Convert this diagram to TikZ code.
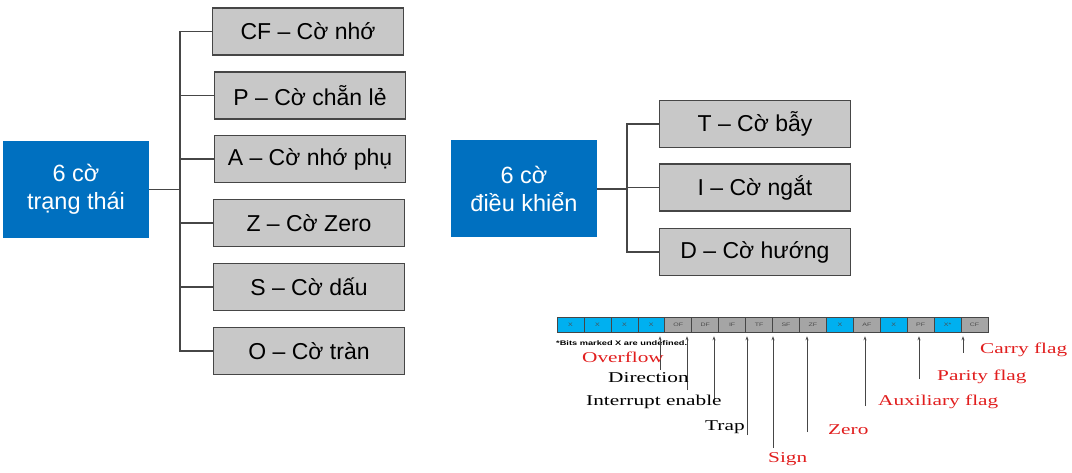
\documentclass[tikz,border=0pt]{standalone}
\usepackage{fontspec}
\setmainfont{Liberation Sans}
\newfontfamily\flagfont[FakeStretch=1.42]{Liberation Serif}
\newfontfamily\notefont[FakeStretch=1.4]{Liberation Sans}
\usepackage{tikz}
\usetikzlibrary{arrows.meta, positioning}
\definecolor{groupblue}{RGB}{0,112,192}
\definecolor{flaggrey}{RGB}{200,200,200}
\definecolor{bitcyan}{RGB}{0,176,240}
\definecolor{bitgrey}{RGB}{165,165,165}
\definecolor{labelred}{RGB}{225,30,30}
\definecolor{linegrey}{RGB}{70,70,70}

\begin{document}
\begin{tikzpicture}[x=1pt, y=-1pt,
  group/.style={fill=groupblue, text=white, minimum width=146pt, minimum height=97pt, align=center, font=\fontsize{23.5}{28}\selectfont},
  flag/.style={draw=linegrey, line width=1.2pt, fill=flaggrey, minimum width=191pt, minimum height=47pt, font=\fontsize{23}{27}\selectfont},
  link/.style={draw=linegrey, line width=1.2pt},
  bit/.style={draw=linegrey, line width=0.6pt, minimum width=26.94pt, minimum height=15pt, inner sep=0pt, text=black!70, font=\notefont\fontsize{5}{6}\selectfont},
  pointer/.style={draw=linegrey, line width=0.8pt, -{Stealth[length=4pt, width=3pt]}},
  flagname/.style={anchor=west, inner sep=0pt, font=\flagfont\fontsize{15}{18}\selectfont},
]
  \useasboundingbox (0,0) rectangle (1072,473);

  % status flags
  \node[group] (status) at (76,189.5) {6 cờ\\trạng thái};
  \node[flag] (cf) at (308,31.5) {CF – Cờ nhớ};
  \node[flag] (pf) at (310,95.5) {P – Cờ chẵn lẻ};
  \node[flag] (af) at (310,159) {A – Cờ nhớ phụ};
  \node[flag] (zf) at (309,223) {Z – Cờ Zero};
  \node[flag] (sf) at (309,287) {S – Cờ dấu};
  \node[flag] (of) at (309,351) {O – Cờ tràn};
  \coordinate (strunk) at (180,189.5);
  \draw[link] (status) -- (strunk);
  \foreach \f in {cf,pf,af,zf,sf,of}
    \draw[link] (strunk) |- (\f);

  % control flags
  \node[group] (control) at (524,189) {6 cờ\\điều khiển};
  \node[flag] (tf) at (755,124) {T – Cờ bẫy};
  \node[flag] (if) at (755,187.5) {I – Cờ ngắt};
  \node[flag] (df) at (755,252) {D – Cờ hướng};
  \coordinate (ctrunk) at (627,189);
  \draw[link] (control) -- (ctrunk);
  \foreach \f in {tf,if,df}
    \draw[link] (ctrunk) |- (\f);

  % flag register
  \foreach \lbl/\col [count=\i] in {X/bitcyan,X/bitcyan,X/bitcyan,X/bitcyan,OF/bitgrey,DF/bitgrey,IF/bitgrey,TF/bitgrey,SF/bitgrey,ZF/bitgrey,X/bitcyan,AF/bitgrey,X/bitcyan,PF/bitgrey,X*/bitcyan,CF/bitgrey}
    \node[bit, fill=\col] (c\i) at ({557+26.94*(\i-0.5)},324.5) {\lbl};
  \node[anchor=west, inner sep=0pt, font=\notefont\bfseries\fontsize{6.6}{7}\selectfont] (note) at (556,343) {*Bits marked X are undefined.};

  \foreach \x/\y/\c in {660/370/c5, 687/390/c6, 714/400/c7, 747/435/c8, 773/448/c9, 807/432/c10, 865/406/c12, 919/379/c14, 963/353/c16} {
    \coordinate (tail\c) at (\x,\y);
    \draw[pointer] (tail\c) -- ([yshift=-4pt]tail\c |- \c.south);
  }

  \node[flagname, text=labelred] (overflow) at (582,357) {Overflow};
  \node[flagname] (direction) at (608,378) {Direction};
  \node[flagname] (interrupt) at (586,402) {Interrupt enable};
  \node[flagname] (trap) at (705,427) {Trap};
  \node[flagname, text=labelred] (sign) at (768,459) {Sign};
  \node[flagname, text=labelred] (zero) at (828,430) {Zero};
  \node[flagname, text=labelred] (auxiliary) at (878,402) {Auxiliary flag};
  \node[flagname, text=labelred] (parity) at (937,377) {Parity flag};
  \node[flagname, text=labelred] (carry) at (980,350) {Carry flag};
\end{tikzpicture}
\end{document}
